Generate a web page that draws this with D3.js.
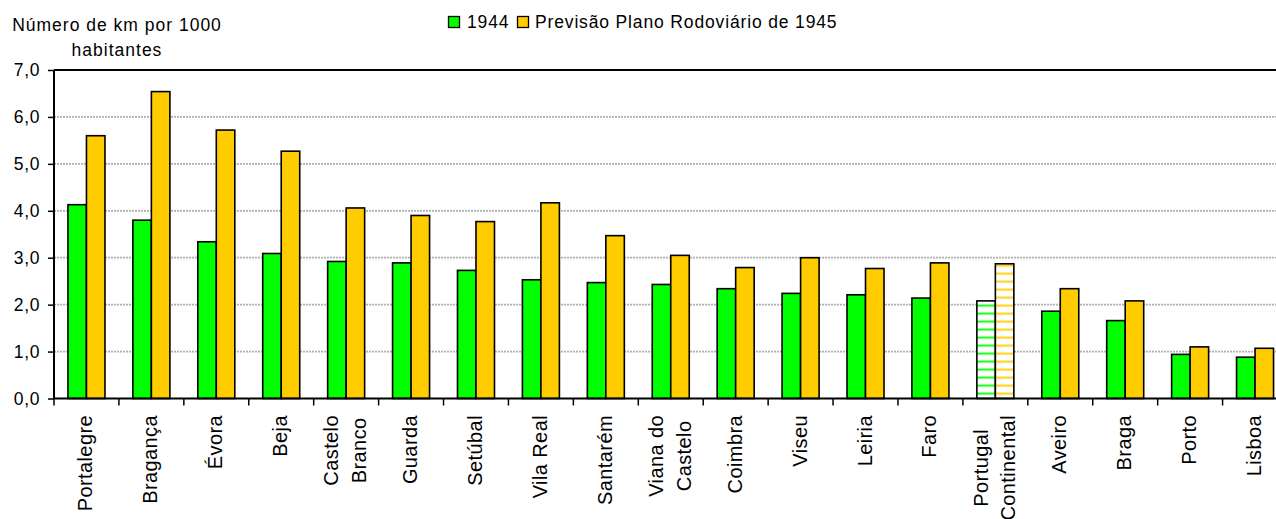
<!DOCTYPE html>
<html><head><meta charset="utf-8">
<script src="https://cdn.jsdelivr.net/npm/d3@7"></script>
<style>
html,body{margin:0;padding:0;background:#fff;}
text{font-family:"Liberation Sans",Arial,sans-serif;fill:#000;}
</style></head>
<body>
<svg id="chart" width="1276" height="519"></svg>
<script>
const categories = ["Portalegre","Bragança","Évora","Beja","Castelo Branco","Guarda","Setúbal","Vila Real","Santarém","Viana do Castelo","Coimbra","Viseu","Leiria","Faro","Portugal Continental","Aveiro","Braga","Porto","Lisboa"];
const categoryLabels = [["Portalegre"],["Bragança"],["Évora"],["Beja"],["Castelo","Branco"],["Guarda"],["Setúbal"],["Vila Real"],["Santarém"],["Viana do","Castelo"],["Coimbra"],["Viseu"],["Leiria"],["Faro"],["Portugal","Continental"],["Aveiro"],["Braga"],["Porto"],["Lisboa"]];
const seriesNames = ["1944","Previsão Plano Rodoviário de 1945"];
const values1944 = [4.13,3.80,3.34,3.09,2.92,2.89,2.73,2.53,2.47,2.43,2.34,2.24,2.21,2.14,2.08,1.86,1.66,0.94,0.88];
const values1945 = [5.60,6.54,5.72,5.27,4.06,3.90,3.77,4.17,3.47,3.05,2.79,3.00,2.77,2.89,2.87,2.34,2.08,1.10,1.07];
const yTicks = [0,1,2,3,4,5,6,7];
const yTickLabels = ["0,0","1,0","2,0","3,0","4,0","5,0","6,0","7,0"];
const highlightCategory = "Portugal Continental";
const yTitleLines = ["Número de km por 1000","habitantes"];

(function(){
const colors = ["#00ff00","#ffcc00"];
const svg = d3.select("#chart");
const pLeft = 54, pRight = 1287.5, pTop = 70, pBottom = 398.5;

const x = d3.scaleBand().domain(categories).range([pLeft, pRight]).padding(0);
const bw = x.bandwidth();
const xs = d3.scaleBand().domain(seriesNames).range([bw*0.215, bw*0.785]).padding(0);
const y = d3.scaleLinear().domain([0,7]).range([pBottom, pTop]);

const defs = svg.append("defs");
colors.forEach((c,i)=>{
  const p = defs.append("pattern").attr("id","hatch"+i).attr("patternUnits","userSpaceOnUse")
    .attr("width",8).attr("height",8).attr("y", pBottom);
  p.append("rect").attr("width",8).attr("height",8).attr("fill","#fff");
  p.append("rect").attr("y",2).attr("width",8).attr("height",2.2).attr("fill",c).attr("opacity",0.85);
});

svg.append("g").selectAll("line").data(yTicks.filter(t=>t>0 && t<7)).join("line")
  .attr("x1",pLeft).attr("x2",1276).attr("y1",d=>y(d)).attr("y2",d=>y(d))
  .attr("stroke","#b0b0b0").attr("stroke-width",1.8).attr("stroke-dasharray","2 1");

svg.append("line").attr("x1",pLeft).attr("x2",1276).attr("y1",pTop).attr("y2",pTop)
  .attr("stroke","#000").attr("stroke-width",2);

const data = categories.map((c,i)=>({cat:c, vals:[values1944[i], values1945[i]]}));
const groups = svg.append("g").selectAll("g").data(data).join("g")
  .attr("transform",d=>`translate(${x(d.cat)},0)`);
groups.selectAll("rect").data(d=>d.vals.map((v,j)=>({v, j, cat:d.cat}))).join("rect")
  .attr("x",d=>xs(seriesNames[d.j]))
  .attr("width",xs.bandwidth())
  .attr("y",d=>y(d.v))
  .attr("height",d=>pBottom-y(d.v))
  .attr("fill",d=>d.cat===highlightCategory ? `url(#hatch${d.j})` : colors[d.j])
  .attr("stroke","#000").attr("stroke-width",1.6);

const yAxis = d3.axisLeft(y).tickValues(yTicks).tickFormat((d,i)=>yTickLabels[i]).tickSize(6).tickPadding(8);
const ya = svg.append("g").attr("transform",`translate(${pLeft},0)`).call(yAxis);
ya.select(".domain").attr("stroke","#000").attr("stroke-width",2).attr("d",`M0,${pBottom}V${pTop}`);
ya.selectAll(".tick line").attr("stroke","#000").attr("stroke-width",1.5);
ya.selectAll(".tick text").attr("font-size","17.5px").attr("letter-spacing","0.6px")
  .attr("font-family","Liberation Sans, Arial, sans-serif").attr("fill","#000");

const xAxis = d3.axisBottom(x).tickValues([]).tickSizeOuter(0);
const xa = svg.append("g").attr("transform",`translate(0,${pBottom})`).call(xAxis);
xa.select(".domain").attr("stroke","#000").attr("stroke-width",2).attr("d",`M${pLeft},0H1276`);
const boundaries = categories.map(c=>x(c)).concat([x(categories[categories.length-1])+bw]);
xa.selectAll("line.bt").data(boundaries).join("line").attr("class","bt")
  .attr("x1",d=>d).attr("x2",d=>d).attr("y1",0).attr("y2",7).attr("stroke","#000").attr("stroke-width",1.5);

const lblG = svg.append("g");
categories.forEach((c,i)=>{
  const lines = categoryLabels[i];
  const cx = x(c)+bw/2 - 1;
  const g = lblG.append("g").attr("transform",`translate(${cx},415) rotate(-90)`);
  const ts = lines.map((l,k)=>g.append("text").text(l)
    .attr("font-size","20px").attr("letter-spacing","0.4px")
    .attr("dy","0.35em")
    .attr("y",(k-(lines.length-1)/2)*27.5));
  const maxLen = d3.max(ts.map(t=>t.node().getComputedTextLength()));
  ts.forEach(t=>t.attr("text-anchor","middle").attr("x",-maxLen/2));
});

svg.append("g").selectAll("text").data(yTitleLines).join("text")
  .attr("x",117).attr("y",(d,i)=>31+i*25).attr("text-anchor","middle")
  .attr("font-size","17.5px").attr("letter-spacing","1px").text(d=>d);

const legend = svg.append("g");
const legPos = [{sx:448, tx:467},{sx:517, tx:535}];
seriesNames.forEach((s,i)=>{
  legend.append("rect").attr("x",legPos[i].sx+0.5).attr("y",16.5).attr("width",11).attr("height",11)
    .attr("fill",colors[i]).attr("stroke","#000").attr("stroke-width",1.3);
  legend.append("text").attr("x",legPos[i].tx).attr("y",27.5).attr("font-size","17.5px")
    .attr("letter-spacing","0.85px").text(s);
});
})();
</script>
</body></html>
